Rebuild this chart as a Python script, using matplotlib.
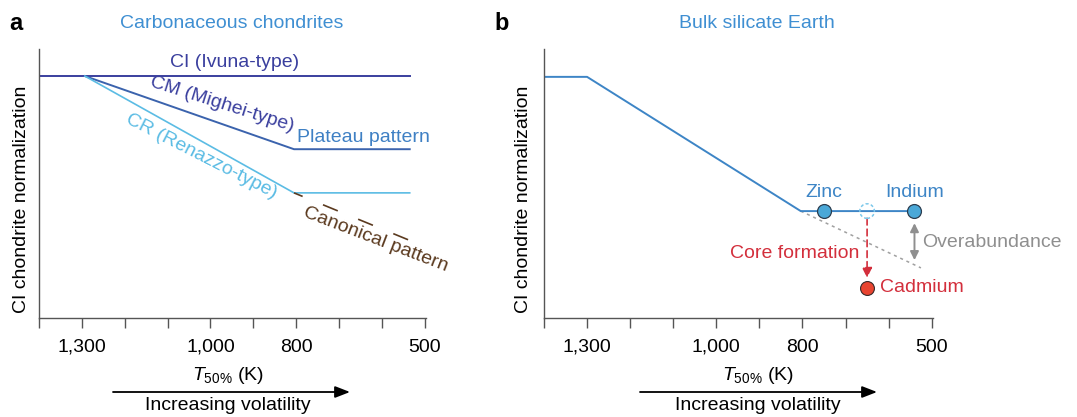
import matplotlib
matplotlib.use("Agg")
import matplotlib.pyplot as plt
from matplotlib.patches import FancyArrowPatch

plt.rcParams['font.family'] = ['Liberation Sans', 'DejaVu Sans']
plt.rcParams['mathtext.fontset'] = 'custom'
plt.rcParams['mathtext.rm'] = 'Liberation Sans'
plt.rcParams['mathtext.it'] = 'Liberation Sans:italic'

# ---------------- data ----------------
tick_pos = [0, 1, 2, 3, 4, 5, 6, 7, 8, 9]
tick_labels = ['', '1,300', '', '', '1,000', '', '800', '', '', '500']

# panel a (schematic, tick-index x units, arbitrary y units)
ci_x = [0, 8.65]
ci_y = [9.03, 9.03]
cm_x = [1.07, 5.95, 8.65]
cm_y = [9.03, 6.3, 6.3]
cr_x = [1.07, 5.95, 8.65]
cr_y = [9.03, 4.67, 4.67]
canon_x = [5.95, 8.69]
canon_y = [4.67, 2.87]

# panel b
bse_x = [0, 1.0, 5.96, 8.6]
bse_y = [9.0, 9.0, 3.99, 3.99]
elem_names = ['Zinc', 'Indium']
elem_x = [6.5, 8.6]
elem_y = [3.99, 3.99]
cd_orig_x, cd_orig_y = 7.5, 3.99
cd_x, cd_y = 7.5, 1.12
trend_x = [5.96, 8.75]
trend_y = [3.99, 1.87]
over_x = 8.6
over_y = (3.54, 2.16)
core_y = (3.72, 1.5)

W, H = 1077, 417
fig = plt.figure(figsize=(W / 100, H / 100), dpi=100)

def fx(px):
    return px / W

def fy(py):
    return 1 - py / H

def px_axes(l, r, t, b):
    return fig.add_axes([l / W, 1 - b / H, (r - l) / W, (b - t) / H])

def style(ax):
    ax.set_xlim(0, 9.03)
    ax.set_ylim(0, 10.04)
    for s in ['top', 'right']:
        ax.spines[s].set_visible(False)
    for s in ['left', 'bottom']:
        ax.spines[s].set_color('#555555')
        ax.spines[s].set_linewidth(1.0)
    ax.set_yticks([])
    ax.set_xticks(tick_pos)
    ax.set_xticklabels(tick_labels, fontsize=14)
    ax.tick_params(axis='x', length=7, width=1.0, color='#555555', pad=8)

axa = px_axes(39, 426, 49, 318)
axb = px_axes(544, 933, 49, 318)
style(axa)
style(axb)

# axis labels
for xl, xc in [(22, 228), (524, 758)]:
    fig.text(fx(xl), fy(199), 'CI chondrite normalization', fontsize=14, rotation=90,
             ha='center', va='center')
    fig.text(fx(xc), fy(375), r'$\mathit{T}_{50\%}$ (K)', fontsize=14, ha='center', va='center')

# ---- panel a ----
c_ci = '#3a3f9e'
c_cm = '#3b63ad'
c_plateau = '#3f80c4'
c_cr = '#5bbce4'
c_canon = '#5b3a1f'
axa.plot(ci_x, ci_y, color=c_ci, lw=1.4)
axa.plot(cm_x, cm_y, color=c_cm, lw=1.4)
axa.plot(cr_x, cr_y, color=c_cr, lw=1.2)
axa.plot(canon_x, canon_y, color=c_canon, lw=1.2, linestyle=(4, (9.6, 13.2)))

axa.text(4.57, 9.52, 'CI (Ivuna-type)', color=c_ci, fontsize=14, ha='center', va='center')
axa.text(4.27, 7.98, 'CM (Mighei-type)', color=c_ci, fontsize=14, ha='center', va='center',
         rotation=-17.5, rotation_mode='anchor')
axa.text(3.8, 6.05, 'CR (Renazzo-type)', color=c_cr, fontsize=14, ha='center', va='center',
         rotation=-27, rotation_mode='anchor')
axa.text(6.02, 6.75, 'Plateau pattern', color=c_plateau, fontsize=14, ha='left', va='center')
axa.text(7.86, 2.91, 'Canonical pattern', color=c_canon, fontsize=14, ha='center', va='center',
         rotation=-21, rotation_mode='anchor')

# ---- panel b ----
c_bse = '#3d85c6'
c_dot = '#4aa8d8'
c_red = '#d32f3c'
c_grey = '#8f8f8f'
axb.plot(trend_x, trend_y, color='#a0a0a0', lw=1.1, dashes=(2, 2.5))
axb.plot(bse_x, bse_y, color=c_bse, lw=1.4)
axb.plot(elem_x, elem_y, 'o', ms=10, mfc=c_dot, mec='#2c3e50', mew=0.9, ls='none', zorder=5)
axb.scatter([cd_orig_x], [cd_orig_y], s=110, facecolors='none', edgecolors='#7cc8ea',
            linewidths=1.1, linestyles=(0, (2, 1.5)), zorder=5)
axb.plot([cd_x], [cd_y], 'o', ms=10, mfc='#e84430', mec='#3a2a2a', mew=0.8, zorder=5)
for nm, x, y in zip(elem_names, elem_x, elem_y):
    axb.text(x, y + 0.68, nm, color=c_bse, fontsize=14, ha='center', va='center')

axb.annotate('', xy=(cd_x, core_y[1]), xytext=(cd_x, core_y[0]),
             arrowprops=dict(arrowstyle='-|>,head_length=0.6,head_width=0.3', color=c_red,
                             lw=1.2, linestyle=(0, (4, 2.5)), shrinkA=0, shrinkB=0))
axb.text(7.31, 2.39, 'Core formation', color=c_red, fontsize=14, ha='right', va='center')
axb.text(7.8, cd_y, 'Cadmium', color=c_red, fontsize=14, ha='left', va='center')

axb.annotate('', xy=(over_x, over_y[1]), xytext=(over_x, over_y[0]),
             arrowprops=dict(arrowstyle='<|-|>,head_length=0.5,head_width=0.25', color=c_grey,
                             lw=1.4, shrinkA=0, shrinkB=0))
axb.text(8.77, 2.83, 'Overabundance', color=c_grey, fontsize=14, ha='left', va='center')

# ---- titles, panel letters ----
c_title = '#3f8fd2'
fig.text(fx(232), fy(23), 'Carbonaceous chondrites', color=c_title, fontsize=14,
         ha='center', va='center')
fig.text(fx(757), fy(23), 'Bulk silicate Earth', color=c_title, fontsize=14,
         ha='center', va='center')
fig.text(fx(16), fy(24), 'a', fontsize=17, fontweight='bold', ha='center', va='center')
fig.text(fx(502), fy(24), 'b', fontsize=17, fontweight='bold', ha='center', va='center')

# ---- increasing volatility arrows ----
for x0, x1, xc in [(113, 350, 228), (640, 877, 758)]:
    fig.add_artist(FancyArrowPatch((fx(x0), fy(392)), (fx(x1), fy(392)),
                                   transform=fig.transFigure,
                                   arrowstyle='-|>,head_length=9,head_width=3.5',
                                   mutation_scale=1, color='black', lw=1.3,
                                   shrinkA=0, shrinkB=0))
    fig.text(fx(xc), fy(405), 'Increasing volatility', fontsize=14, ha='center', va='center')

fig.savefig('out.png', dpi=100)
